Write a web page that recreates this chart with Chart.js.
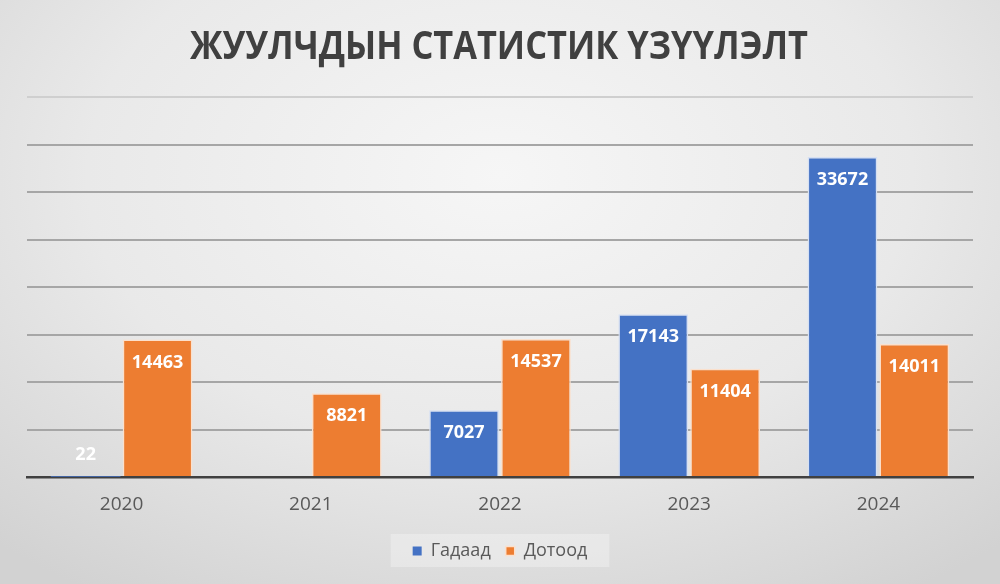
<!DOCTYPE html>
<html>
<head>
<meta charset="utf-8">
<script src="https://cdn.jsdelivr.net/npm/chart.js@4.4.1/dist/chart.umd.min.js"></script>
<style>
  html, body { margin: 0; padding: 0; }
  body {
    width: 1000px; height: 584px; overflow: hidden;
    background: radial-gradient(ellipse 75% 85% at 50% 30%, #f6f6f6 0%, #e9e9e9 55%, #d2d2d2 100%);
  }
  #wrap { position: relative; width: 1000px; height: 584px; }
</style>
</head>
<body>
<div id="wrap"><canvas id="myChart"></canvas></div>
<script>
const years = ['2020', '2021', '2022', '2023', '2024'];
const gadaad = [22, 0, 7027, 17143, 33672];
const dotood = [14463, 8821, 14537, 11404, 14011];
const titleText = 'ЖУУЛЧДЫН СТАТИСТИК ҮЗҮҮЛЭЛТ';

// title, squeezed to the width it has in the picture
const titlePlugin = {
  id: 'titlePlugin',
  afterDraw(chart) {
    const ctx = chart.ctx;
    ctx.save();
    ctx.font = 'bold 40px "Open Sans"';
    ctx.fillStyle = '#404040';
    ctx.textBaseline = 'alphabetic';
    const w = ctx.measureText(titleText).width;
    const target = 618;
    ctx.translate(499, 59);
    ctx.scale(Math.min(1, target / w), 1);
    ctx.textAlign = 'center';
    ctx.fillText(titleText, 0, 0);
    ctx.restore();
  }
};

// value labels inside the bar tops
const valueLabels = {
  id: 'valueLabels',
  afterDatasetsDraw(chart) {
    const ctx = chart.ctx;
    ctx.save();
    ctx.font = 'bold 18px "Open Sans"';
    ctx.fillStyle = '#ffffff';
    ctx.textAlign = 'center';
    ctx.textBaseline = 'middle';
    chart.data.datasets.forEach((ds, i) => {
      chart.getDatasetMeta(i).data.forEach((bar, j) => {
        const v = ds.data[j];
        if (!v) return;
        const h = bar.base - bar.y;
        const y = h > 40 ? bar.y + 23 : bar.y - 22;
        ctx.fillText(String(v), bar.x, y);
      });
    });
    ctx.restore();
  }
};

// faint box behind the legend
const legendBg = {
  id: 'legendBg',
  beforeDraw(chart) {
    const lg = chart.legend;
    if (!lg || !lg.legendHitBoxes.length) return;
    const hb = lg.legendHitBoxes;
    const x0 = hb[0].left - 22, x1 = hb[hb.length - 1].left + hb[hb.length - 1].width + 22;
    const y0 = hb[0].top - 8, y1 = hb[0].top + hb[0].height + 7;
    const ctx = chart.ctx;
    ctx.save();
    ctx.fillStyle = 'rgba(255,255,255,0.3)';
    ctx.fillRect(x0, y0, x1 - x0, y1 - y0);
    ctx.restore();
  }
};

const config = {
  type: 'bar',
  data: {
    labels: years,
    datasets: [
      {
        label: 'Гадаад',
        data: gadaad,
        backgroundColor: '#4472C4',
        borderColor: '#d6e0f3',
        borderWidth: c => (c.raw || 0) < 500 ? 0 : 1.5,
        categoryPercentage: 0.76,
        barPercentage: 0.97
      },
      {
        label: 'Дотоод',
        data: dotood,
        backgroundColor: '#ED7D31',
        borderColor: '#fbe0cc',
        borderWidth: 1.5,
        categoryPercentage: 0.76,
        barPercentage: 0.97
      }
    ]
  },
  options: {
    responsive: true,
    maintainAspectRatio: false,
    animation: false,
    layout: { padding: { top: 97, left: 27, right: 27, bottom: 14 } },
    scales: {
      x: {
        grid: { display: false },
        border: { display: true, color: '#404040', width: 2.5 },
        ticks: {
          color: '#595959',
          font: { family: 'Open Sans', size: 19 },
          padding: 8
        },
        afterFit: scale => { scale.height = 50; }
      },
      y: {
        min: 0,
        max: 40000,
        ticks: { display: false, stepSize: 5000 },
        border: { display: false },
        grid: {
          color: c => c.tick.value === 0 ? 'rgba(0,0,0,0)' : (c.tick.value === 40000 ? '#cfcfcf' : '#a6a6a6'),
          lineWidth: 2,
          drawTicks: false
        }
      }
    },
    plugins: {
      legend: {
        display: true,
        position: 'bottom',
        labels: {
          color: '#595959',
          font: { family: 'Open Sans', size: 18 },
          boxWidth: 9,
          boxHeight: 9,
          padding: 15
        }
      },
      tooltip: { enabled: false }
    }
  },
  plugins: [titlePlugin, valueLabels, legendBg]
};

const myChart = new Chart(document.getElementById('myChart'), config);
</script>
</body>
</html>
